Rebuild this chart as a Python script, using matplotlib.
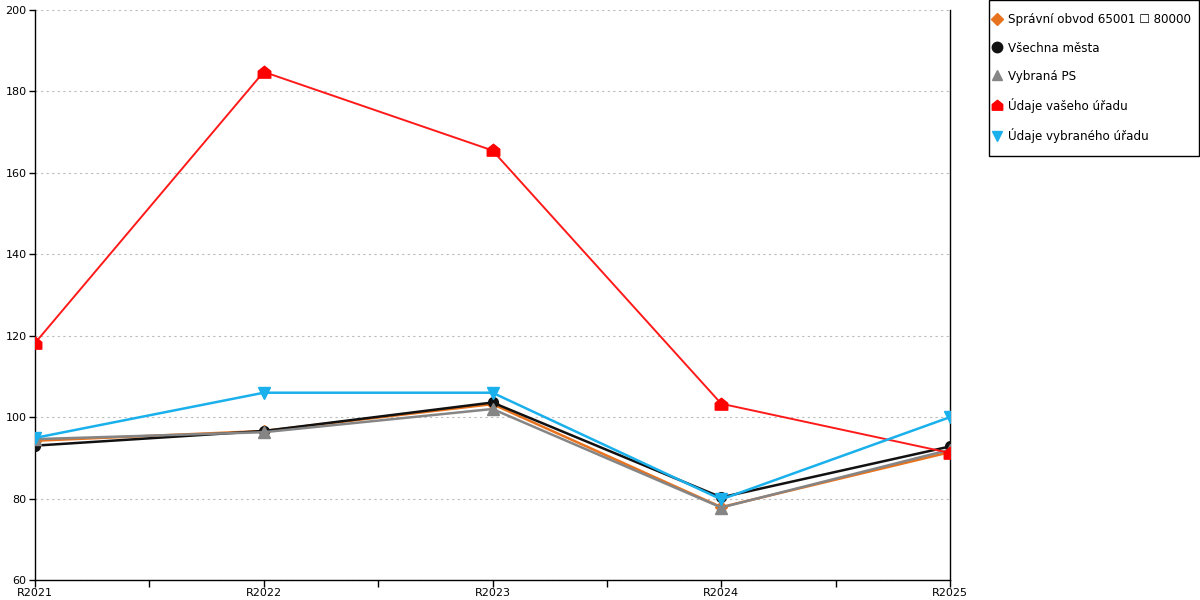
import matplotlib.pyplot as plt
from matplotlib.path import Path
from matplotlib.patches import Rectangle

years = ['R2021', 'R2022', 'R2023', 'R2024', 'R2025']

spravni_obvod = [94.2, 96.6, 103.2, 77.9, 91.4]
vsechna_mesta = [93.0, 96.6, 103.6, 80.3, 92.8]
vybrana_ps = [94.6, 96.3, 102.0, 77.8, 92.0]
vas_urad = [118.2, 184.8, 165.5, 103.3, 91.2]
vybrany_urad = [94.9, 106.0, 106.0, 79.8, 100.0]

labels = ['Správní obvod 65001 \u2610 80000', 'Všechna města', 'Vybraná PS',
          'Údaje vašeho úřadu', 'Údaje vybraného úřadu']

# house shaped marker for the red series
house = Path([(0, 1), (1, 0.2), (1, -0.9), (-1, -0.9), (-1, 0.2), (0, 1)],
             [Path.MOVETO, Path.LINETO, Path.LINETO, Path.LINETO, Path.LINETO, Path.CLOSEPOLY])

plt.rcParams['font.family'] = ['DejaVu Sans']

fig = plt.figure(figsize=(12, 6), dpi=100)
ax = fig.add_axes([35 / 1200, 20 / 600, 915 / 1200, 570 / 600])

x = list(range(len(years)))
ax.plot(x, spravni_obvod, color='#e8731e', lw=1.8, marker='D', ms=6, zorder=3)
ax.plot(x, vsechna_mesta, color='#111111', lw=1.8, marker='o', ms=7, zorder=3)
ax.plot(x, vybrana_ps, color='#858585', lw=1.8, marker='^', ms=8, zorder=3)
ax.plot(x, vas_urad, color='#ff1a1a', lw=1.4, marker=house, ms=9, mfc='#ff0000', mec='#ff0000', zorder=3)
ax.plot(x, vybrany_urad, color='#1ab0ec', lw=1.8, marker='v', ms=9, zorder=3)

ax.set_xlim(0, 4)
ax.set_ylim(60, 200)
ax.set_yticks(range(60, 201, 20))
ax.set_xticks(x)
ax.set_xticklabels(years)
ax.set_xticks([0.5, 1.5, 2.5, 3.5], minor=True)
ax.tick_params(axis='both', labelsize=8, direction='out', length=5, width=1)
ax.tick_params(axis='x', which='minor', length=5, width=1)
ax.tick_params(axis='x', pad=0.5)
ax.tick_params(axis='y', pad=2, length=4)

ax.grid(axis='y', linestyle=(0, (2, 3)), color='#bbbbbb', lw=0.8)
ax.set_axisbelow(True)
ax.spines['top'].set_visible(False)
for s in ['left', 'bottom', 'right']:
    ax.spines[s].set_linewidth(1)
    ax.spines[s].set_color('black')

# legend with markers only, frame drawn separately
handles = []
styles = [('D', '#e8731e', 6), ('o', '#111111', 7.5), ('^', '#858585', 7.5),
          (house, '#ff0000', 7.5), ('v', '#1ab0ec', 7.5)]
for (m, c, s), lab in zip(styles, labels):
    h, = ax.plot([], [], ls='none', marker=m, color=c, ms=s, label=lab)
    handles.append(h)
fig.legend(handles=handles, loc='upper left', bbox_to_anchor=(992 / 1200, 586.5 / 600),
           frameon=False, fontsize=8.6, labelspacing=1.26, handletextpad=0.4,
           handlelength=0.9, borderpad=0, borderaxespad=0)
fig.patches.append(Rectangle((988.5 / 1200, 444.5 / 600), 210.5 / 1200, 155 / 600,
                             transform=fig.transFigure, fill=False, ec='black', lw=1))

fig.savefig('out.png', dpi=100)
